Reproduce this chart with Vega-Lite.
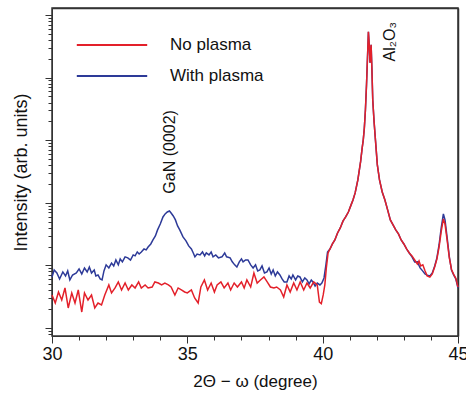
{
  "$schema": "https://vega.github.io/schema/vega-lite/v6.json",
  "width": 406,
  "height": 328,
  "autosize": {"type": "none"},
  "padding": {"left": 52, "top": 8, "right": 8, "bottom": 60},
  "view": {"stroke": "#333333", "strokeWidth": 1.5, "strokeOpacity": 1},
  "config": {
    "font": "Liberation Sans",
    "view": {"stroke": "#333333", "strokeWidth": 1.5},
    "axis": {"domainColor": "#333", "tickColor": "#333", "labelColor": "#111", "titleColor": "#111", "titleFontWeight": "normal", "grid": false}
  },
  "datasets": {
    "xrd": [
      {"s":"With plasma","x":30.0,"y":6.54},{"s":"With plasma","x":30.08,"y":8.46},{"s":"With plasma","x":30.18,"y":7.57},{"s":"With plasma","x":30.28,"y":6.07},{"s":"With plasma","x":30.4,"y":7.86},{"s":"With plasma","x":30.5,"y":6.78},{"s":"With plasma","x":30.58,"y":8.15},{"s":"With plasma","x":30.66,"y":5.85},{"s":"With plasma","x":30.76,"y":7.03},{"s":"With plasma","x":30.9,"y":7.57},{"s":"With plasma","x":31.0,"y":8.78},{"s":"With plasma","x":31.1,"y":7.3},{"s":"With plasma","x":31.2,"y":9.1},{"s":"With plasma","x":31.3,"y":7.86},{"s":"With plasma","x":31.38,"y":9.44},{"s":"With plasma","x":31.46,"y":7.57},{"s":"With plasma","x":31.56,"y":8.46},{"s":"With plasma","x":31.62,"y":6.78},{"s":"With plasma","x":31.7,"y":7.03},{"s":"With plasma","x":31.78,"y":6.07},{"s":"With plasma","x":31.85,"y":5.85},{"s":"With plasma","x":31.92,"y":8.15},{"s":"With plasma","x":32.0,"y":10.2},{"s":"With plasma","x":32.1,"y":9.1},{"s":"With plasma","x":32.2,"y":10.9},{"s":"With plasma","x":32.28,"y":9.8},{"s":"With plasma","x":32.36,"y":12.2},{"s":"With plasma","x":32.45,"y":10.2},{"s":"With plasma","x":32.52,"y":12.7},{"s":"With plasma","x":32.6,"y":11.4},{"s":"With plasma","x":32.7,"y":13.7},{"s":"With plasma","x":32.8,"y":13.2},{"s":"With plasma","x":32.9,"y":12.2},{"s":"With plasma","x":33.0,"y":14.7},{"s":"With plasma","x":33.07,"y":14.2},{"s":"With plasma","x":33.15,"y":16.4},{"s":"With plasma","x":33.22,"y":15.2},{"s":"With plasma","x":33.3,"y":16.4},{"s":"With plasma","x":33.4,"y":18.3},{"s":"With plasma","x":33.48,"y":17.7},{"s":"With plasma","x":33.55,"y":19.7},{"s":"With plasma","x":33.65,"y":22.0},{"s":"With plasma","x":33.73,"y":25.5},{"s":"With plasma","x":33.82,"y":29.6},{"s":"With plasma","x":33.9,"y":36.9},{"s":"With plasma","x":34.0,"y":45.8},{"s":"With plasma","x":34.1,"y":59.4},{"s":"With plasma","x":34.18,"y":66.4},{"s":"With plasma","x":34.26,"y":71.3},{"s":"With plasma","x":34.34,"y":74.1},{"s":"With plasma","x":34.4,"y":68.7},{"s":"With plasma","x":34.48,"y":61.7},{"s":"With plasma","x":34.56,"y":53.3},{"s":"With plasma","x":34.64,"y":42.7},{"s":"With plasma","x":34.72,"y":36.9},{"s":"With plasma","x":34.84,"y":28.5},{"s":"With plasma","x":34.95,"y":24.6},{"s":"With plasma","x":35.05,"y":20.5},{"s":"With plasma","x":35.15,"y":18.3},{"s":"With plasma","x":35.22,"y":15.8},{"s":"With plasma","x":35.28,"y":13.7},{"s":"With plasma","x":35.36,"y":15.2},{"s":"With plasma","x":35.47,"y":14.7},{"s":"With plasma","x":35.56,"y":16.4},{"s":"With plasma","x":35.64,"y":14.2},{"s":"With plasma","x":35.7,"y":15.8},{"s":"With plasma","x":35.8,"y":14.7},{"s":"With plasma","x":35.88,"y":16.4},{"s":"With plasma","x":35.95,"y":13.7},{"s":"With plasma","x":36.05,"y":14.7},{"s":"With plasma","x":36.15,"y":13.2},{"s":"With plasma","x":36.28,"y":13.7},{"s":"With plasma","x":36.38,"y":15.8},{"s":"With plasma","x":36.45,"y":13.7},{"s":"With plasma","x":36.58,"y":13.2},{"s":"With plasma","x":36.66,"y":11.4},{"s":"With plasma","x":36.75,"y":10.2},{"s":"With plasma","x":36.83,"y":9.44},{"s":"With plasma","x":36.92,"y":11.4},{"s":"With plasma","x":37.0,"y":12.7},{"s":"With plasma","x":37.06,"y":11.4},{"s":"With plasma","x":37.15,"y":12.2},{"s":"With plasma","x":37.24,"y":12.2},{"s":"With plasma","x":37.34,"y":10.2},{"s":"With plasma","x":37.43,"y":9.1},{"s":"With plasma","x":37.52,"y":10.2},{"s":"With plasma","x":37.6,"y":8.15},{"s":"With plasma","x":37.68,"y":8.46},{"s":"With plasma","x":37.76,"y":9.8},{"s":"With plasma","x":37.85,"y":7.57},{"s":"With plasma","x":37.94,"y":7.86},{"s":"With plasma","x":38.02,"y":9.1},{"s":"With plasma","x":38.1,"y":7.3},{"s":"With plasma","x":38.17,"y":8.46},{"s":"With plasma","x":38.25,"y":6.78},{"s":"With plasma","x":38.33,"y":7.86},{"s":"With plasma","x":38.42,"y":7.03},{"s":"With plasma","x":38.5,"y":6.07},{"s":"With plasma","x":38.58,"y":5.44},{"s":"With plasma","x":38.68,"y":5.44},{"s":"With plasma","x":38.76,"y":6.78},{"s":"With plasma","x":38.84,"y":6.07},{"s":"With plasma","x":38.9,"y":7.03},{"s":"With plasma","x":39.0,"y":5.85},{"s":"With plasma","x":39.08,"y":6.78},{"s":"With plasma","x":39.16,"y":6.54},{"s":"With plasma","x":39.25,"y":5.44},{"s":"With plasma","x":39.34,"y":6.3},{"s":"With plasma","x":39.42,"y":5.85},{"s":"With plasma","x":39.5,"y":5.05},{"s":"With plasma","x":39.58,"y":5.85},{"s":"With plasma","x":39.64,"y":5.44},{"s":"With plasma","x":39.72,"y":4.69},{"s":"With plasma","x":39.8,"y":5.23},{"s":"With plasma","x":39.9,"y":4.87},{"s":"With plasma","x":39.97,"y":5.23},{"s":"With plasma","x":40.05,"y":6.3},{"s":"With plasma","x":40.12,"y":10.2},{"s":"With plasma","x":40.18,"y":16.4},
      {"s":"With plasma","x":40.27,"y":18.3},{"s":"With plasma","x":40.36,"y":22.0},{"s":"With plasma","x":40.45,"y":25.5},{"s":"With plasma","x":40.55,"y":33.0},{"s":"With plasma","x":40.65,"y":39.7},{"s":"With plasma","x":40.75,"y":51},{"s":"With plasma","x":40.85,"y":59.4},{"s":"With plasma","x":40.95,"y":71.3},{"s":"With plasma","x":41.05,"y":92.6},{"s":"With plasma","x":41.12,"y":111},{"s":"With plasma","x":41.2,"y":144},{"s":"With plasma","x":41.3,"y":232},{"s":"With plasma","x":41.4,"y":450},{"s":"With plasma","x":41.46,"y":755},{"s":"With plasma","x":41.5,"y":1013},{"s":"With plasma","x":41.54,"y":1575},{"s":"With plasma","x":41.58,"y":3057},{"s":"With plasma","x":41.62,"y":7670},{"s":"With plasma","x":41.66,"y":23150},{"s":"With plasma","x":41.69,"y":53900},{"s":"With plasma","x":41.72,"y":33400},{"s":"With plasma","x":41.75,"y":17250},{"s":"With plasma","x":41.79,"y":33400},{"s":"With plasma","x":41.82,"y":13300},{"s":"With plasma","x":41.85,"y":4420},{"s":"With plasma","x":41.9,"y":1965},{"s":"With plasma","x":41.95,"y":1013},{"s":"With plasma","x":42.02,"y":403},{"s":"With plasma","x":42.1,"y":232},{"s":"With plasma","x":42.2,"y":149},{"s":"With plasma","x":42.3,"y":111},{"s":"With plasma","x":42.4,"y":77},{"s":"With plasma","x":42.5,"y":53.3},{"s":"With plasma","x":42.6,"y":44.3},{"s":"With plasma","x":42.7,"y":36.9},{"s":"With plasma","x":42.8,"y":31.8},{"s":"With plasma","x":42.9,"y":25.5},{"s":"With plasma","x":43.0,"y":22.0},{"s":"With plasma","x":43.1,"y":18.3},{"s":"With plasma","x":43.2,"y":15.8},{"s":"With plasma","x":43.3,"y":13.7},{"s":"With plasma","x":43.4,"y":11.3},{"s":"With plasma","x":43.5,"y":11.4},{"s":"With plasma","x":43.6,"y":9.1},{"s":"With plasma","x":43.7,"y":8.1},{"s":"With plasma","x":43.78,"y":7.3},{"s":"With plasma","x":43.86,"y":7.0},{"s":"With plasma","x":43.96,"y":6.78},{"s":"With plasma","x":44.05,"y":7.57},{"s":"With plasma","x":44.14,"y":9.8},{"s":"With plasma","x":44.22,"y":13.2},{"s":"With plasma","x":44.3,"y":21.2},{"s":"With plasma","x":44.38,"y":39.7},{"s":"With plasma","x":44.46,"y":66.4},{"s":"With plasma","x":44.52,"y":53.3},{"s":"With plasma","x":44.6,"y":27.5},{"s":"With plasma","x":44.68,"y":13.7},{"s":"With plasma","x":44.76,"y":8.46},{"s":"With plasma","x":44.84,"y":7.03},{"s":"With plasma","x":44.92,"y":6.07},{"s":"With plasma","x":45.0,"y":4.36},
      {"s":"No plasma","x":30.0,"y":3.37},{"s":"No plasma","x":30.12,"y":2.51},{"s":"No plasma","x":30.24,"y":3.76},{"s":"No plasma","x":30.36,"y":2.8},{"s":"No plasma","x":30.48,"y":4.36},{"s":"No plasma","x":30.6,"y":2.09},{"s":"No plasma","x":30.73,"y":3.63},{"s":"No plasma","x":30.85,"y":2.51},{"s":"No plasma","x":30.97,"y":4.05},{"s":"No plasma","x":31.1,"y":1.8},{"s":"No plasma","x":31.2,"y":3.63},{"s":"No plasma","x":31.33,"y":2.8},{"s":"No plasma","x":31.46,"y":3.37},{"s":"No plasma","x":31.58,"y":2.09},{"s":"No plasma","x":31.7,"y":2.51},{"s":"No plasma","x":31.83,"y":2.33},{"s":"No plasma","x":31.95,"y":3.37},{"s":"No plasma","x":32.1,"y":4.87},{"s":"No plasma","x":32.2,"y":3.63},{"s":"No plasma","x":32.33,"y":4.36},{"s":"No plasma","x":32.45,"y":5.44},{"s":"No plasma","x":32.57,"y":4.05},{"s":"No plasma","x":32.7,"y":5.23},{"s":"No plasma","x":32.82,"y":4.05},{"s":"No plasma","x":32.95,"y":4.87},{"s":"No plasma","x":33.07,"y":4.36},{"s":"No plasma","x":33.2,"y":5.44},{"s":"No plasma","x":33.3,"y":4.36},{"s":"No plasma","x":33.44,"y":4.87},{"s":"No plasma","x":33.55,"y":4.36},{"s":"No plasma","x":33.7,"y":4.52},{"s":"No plasma","x":33.8,"y":5.44},{"s":"No plasma","x":33.93,"y":5.23},{"s":"No plasma","x":34.05,"y":4.87},{"s":"No plasma","x":34.17,"y":5.23},{"s":"No plasma","x":34.3,"y":4.87},{"s":"No plasma","x":34.4,"y":4.52},{"s":"No plasma","x":34.54,"y":3.37},{"s":"No plasma","x":34.66,"y":4.36},{"s":"No plasma","x":34.78,"y":4.05},{"s":"No plasma","x":34.9,"y":3.76},{"s":"No plasma","x":35.0,"y":3.63},{"s":"No plasma","x":35.15,"y":4.05},{"s":"No plasma","x":35.27,"y":3.02},{"s":"No plasma","x":35.4,"y":2.51},{"s":"No plasma","x":35.5,"y":4.52},{"s":"No plasma","x":35.63,"y":5.85},{"s":"No plasma","x":35.75,"y":4.05},{"s":"No plasma","x":35.88,"y":5.23},{"s":"No plasma","x":36.0,"y":3.76},{"s":"No plasma","x":36.1,"y":4.87},{"s":"No plasma","x":36.24,"y":5.44},{"s":"No plasma","x":36.36,"y":4.36},{"s":"No plasma","x":36.5,"y":5.23},{"s":"No plasma","x":36.6,"y":4.05},{"s":"No plasma","x":36.73,"y":5.23},{"s":"No plasma","x":36.85,"y":4.52},{"s":"No plasma","x":37.0,"y":5.44},{"s":"No plasma","x":37.1,"y":4.36},{"s":"No plasma","x":37.2,"y":5.85},{"s":"No plasma","x":37.34,"y":4.52},{"s":"No plasma","x":37.46,"y":7.57},{"s":"No plasma","x":37.58,"y":5.23},{"s":"No plasma","x":37.7,"y":5.85},{"s":"No plasma","x":37.83,"y":6.54},{"s":"No plasma","x":37.95,"y":5.44},{"s":"No plasma","x":38.07,"y":4.52},{"s":"No plasma","x":38.2,"y":4.36},{"s":"No plasma","x":38.3,"y":4.52},{"s":"No plasma","x":38.44,"y":4.05},{"s":"No plasma","x":38.56,"y":3.13},{"s":"No plasma","x":38.68,"y":4.87},{"s":"No plasma","x":38.8,"y":3.76},{"s":"No plasma","x":38.93,"y":5.23},{"s":"No plasma","x":39.05,"y":4.05},{"s":"No plasma","x":39.17,"y":5.44},{"s":"No plasma","x":39.3,"y":4.05},{"s":"No plasma","x":39.42,"y":5.23},{"s":"No plasma","x":39.54,"y":4.36},{"s":"No plasma","x":39.67,"y":5.44},{"s":"No plasma","x":39.8,"y":4.87},{"s":"No plasma","x":39.88,"y":2.6},{"s":"No plasma","x":39.95,"y":2.45},{"s":"No plasma","x":40.02,"y":3.37},{"s":"No plasma","x":40.08,"y":4.9},{"s":"No plasma","x":40.14,"y":9.5},{"s":"No plasma","x":40.2,"y":15.8},
      {"s":"No plasma","x":40.27,"y":18.3},{"s":"No plasma","x":40.36,"y":22.0},{"s":"No plasma","x":40.45,"y":25.5},{"s":"No plasma","x":40.55,"y":33.0},{"s":"No plasma","x":40.65,"y":39.7},{"s":"No plasma","x":40.75,"y":51},{"s":"No plasma","x":40.85,"y":59.4},{"s":"No plasma","x":40.95,"y":71.3},{"s":"No plasma","x":41.05,"y":92.6},{"s":"No plasma","x":41.12,"y":111},{"s":"No plasma","x":41.2,"y":144},{"s":"No plasma","x":41.3,"y":232},{"s":"No plasma","x":41.4,"y":450},{"s":"No plasma","x":41.46,"y":755},{"s":"No plasma","x":41.5,"y":1013},{"s":"No plasma","x":41.54,"y":1575},{"s":"No plasma","x":41.58,"y":3057},{"s":"No plasma","x":41.62,"y":7670},{"s":"No plasma","x":41.66,"y":23150},{"s":"No plasma","x":41.69,"y":53900},{"s":"No plasma","x":41.72,"y":33400},{"s":"No plasma","x":41.75,"y":17250},{"s":"No plasma","x":41.79,"y":33400},{"s":"No plasma","x":41.82,"y":13300},{"s":"No plasma","x":41.85,"y":4420},{"s":"No plasma","x":41.9,"y":1965},{"s":"No plasma","x":41.95,"y":1013},{"s":"No plasma","x":42.02,"y":403},{"s":"No plasma","x":42.1,"y":232},{"s":"No plasma","x":42.2,"y":149},{"s":"No plasma","x":42.3,"y":111},{"s":"No plasma","x":42.4,"y":77},{"s":"No plasma","x":42.5,"y":53.3},{"s":"No plasma","x":42.6,"y":44.3},{"s":"No plasma","x":42.7,"y":36.9},{"s":"No plasma","x":42.8,"y":31.8},{"s":"No plasma","x":42.9,"y":25.5},{"s":"No plasma","x":43.0,"y":22.0},{"s":"No plasma","x":43.1,"y":18.3},{"s":"No plasma","x":43.2,"y":15.8},{"s":"No plasma","x":43.3,"y":14.2},{"s":"No plasma","x":43.4,"y":12.2},{"s":"No plasma","x":43.5,"y":10.5},{"s":"No plasma","x":43.56,"y":11.8},{"s":"No plasma","x":43.62,"y":9.8},{"s":"No plasma","x":43.7,"y":10.2},{"s":"No plasma","x":43.78,"y":8.2},{"s":"No plasma","x":43.86,"y":6.8},{"s":"No plasma","x":43.96,"y":6.5},{"s":"No plasma","x":44.05,"y":7.3},{"s":"No plasma","x":44.14,"y":9.5},{"s":"No plasma","x":44.22,"y":12.6},{"s":"No plasma","x":44.3,"y":19.5},{"s":"No plasma","x":44.38,"y":35},{"s":"No plasma","x":44.46,"y":55.3},{"s":"No plasma","x":44.52,"y":45.8},{"s":"No plasma","x":44.6,"y":25},{"s":"No plasma","x":44.68,"y":13.2},{"s":"No plasma","x":44.76,"y":8.6},{"s":"No plasma","x":44.84,"y":7.2},{"s":"No plasma","x":44.92,"y":6.2},{"s":"No plasma","x":45.0,"y":4.5}
    ],
    "ann": [
      {"label": "GaN (0002)", "x": 34.36, "y": 651},
      {"label": "Al₂O₃", "x": 42.49, "y": 37400}
    ]
  },
  "resolve": {"axis": {"x": "independent", "y": "independent"}},
  "encoding": {
    "x": {"field": "x", "type": "quantitative", "scale": {"domain": [30, 45], "nice": false, "zero": false}, "axis": null},
    "y": {"field": "y", "type": "quantitative", "scale": {"type": "log", "domain": [0.745, 129400], "nice": false}, "axis": null}
  },
  "layer": [
    {
      "data": {"name": "xrd"},
      "transform": [{"filter": "datum.s === 'With plasma'"}],
      "mark": {"type": "line", "strokeWidth": 1.5},
      "encoding": {
        "x": {
          "field": "x", "type": "quantitative",
          "scale": {"domain": [30, 45], "nice": false, "zero": false},
          "axis": {
            "title": "2Θ − ω (degree)",
            "values": [30,31,32,33,34,35,36,37,38,39,40,41,42,43,44,45],
            "labelExpr": "datum.value % 5 === 0 ? datum.label : ''",
            "tickSize": {"condition": {"test": "datum.value % 5 === 0", "value": 7}, "value": 4},
            "labelFontSize": 18, "labelPadding": 2, "labelFlush": false, "labelOverlap": false,
            "titleFontSize": 17, "titlePadding": 10
          }
        },
        "y": {
          "field": "y", "type": "quantitative",
          "scale": {"type": "log", "domain": [0.745, 129400], "nice": false},
          "axis": {
            "title": "Intensity (arb. units)",
            "labels": false,
            "values": [0.8,0.9,1,2,3,4,5,6,7,8,9,10,20,30,40,50,60,70,80,90,100,200,300,400,500,600,700,800,900,1000,2000,3000,4000,5000,6000,7000,8000,9000,10000,20000,30000,40000,50000,60000,70000,80000,90000,100000],
            "tickSize": {"condition": {"test": "indexof([1,10,100,1000,10000,100000], datum.value) >= 0", "value": 7}, "value": 4},
            "titleFontSize": 18, "titlePadding": 14
          }
        },
        "color": {
          "field": "s", "type": "nominal",
          "scale": {"domain": ["No plasma", "With plasma"], "range": ["#e3202a", "#2d3a98"]},
          "legend": {
            "title": null, "orient": "none", "legendX": 37, "legendY": 14,
            "symbolType": "M-1.6,0H1.6", "symbolSize": 1936, "symbolStrokeWidth": 2,
            "labelFontSize": 17, "labelOffset": 35, "rowPadding": 0, "padding": 0, "labelColor": "#111"
          }
        }
      }
    },
    {
      "data": {"name": "xrd"},
      "transform": [{"filter": "datum.s === 'No plasma'"}],
      "mark": {"type": "line", "strokeWidth": 1.5},
      "encoding": {
        "x": {
          "field": "x", "type": "quantitative",
          "scale": {"domain": [30, 45], "nice": false, "zero": false},
          "axis": {"orient": "top", "labels": false, "ticks": false, "title": null, "domain": true, "domainWidth": 1.5, "domainColor": "#333333"}
        },
        "y": {
          "field": "y", "type": "quantitative",
          "scale": {"type": "log", "domain": [0.745, 129400], "nice": false},
          "axis": {"orient": "right", "labels": false, "ticks": false, "title": null, "domain": true, "domainWidth": 1.5, "domainColor": "#333333"}
        },
        "color": {
          "field": "s", "type": "nominal",
          "scale": {"domain": ["No plasma", "With plasma"], "range": ["#e3202a", "#2d3a98"]}
        }
      }
    },
    {
      "data": {"name": "ann"},
      "mark": {"type": "text", "angle": 270, "align": "center", "baseline": "middle", "fontSize": 16, "color": "#111"},
      "encoding": {"text": {"field": "label"}}
    }
  ]
}
